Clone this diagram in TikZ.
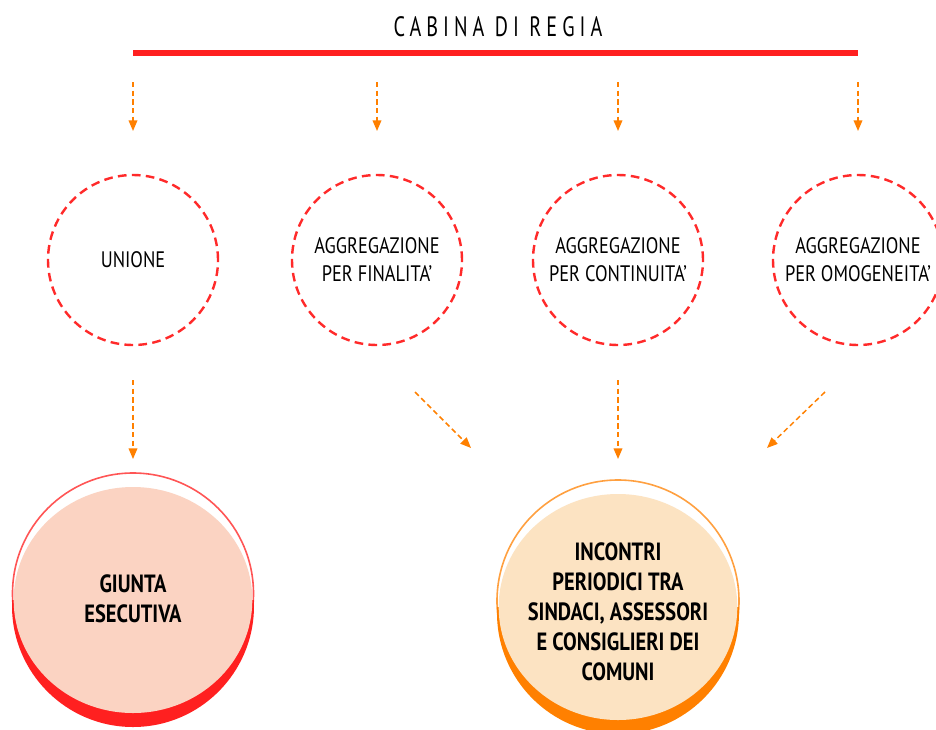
\documentclass[tikz,border=0pt]{standalone}
\usepackage{fontspec}
\setmainfont{PT Sans}[FakeStretch=0.82]
\newfontfamily\titlefont{PT Sans}[FakeStretch=0.72,LetterSpace=18]
\usetikzlibrary{arrows.meta,shapes.geometric}
\definecolor{dred}{HTML}{FF2A2A}
\definecolor{barred}{HTML}{FF2020}
\definecolor{arrorange}{HTML}{FF8000}
\definecolor{ringred}{HTML}{FF5555}
\definecolor{pinkfill}{HTML}{FBD3C2}
\definecolor{ringorange}{HTML}{FFA040}
\definecolor{peachfill}{HTML}{FCE3C2}
\tikzset{
  dcirc/.style={circle, draw=dred, line width=1.8pt, dash pattern=on 6.5pt off 4pt,
    minimum size=127.5pt, inner sep=0pt, align=center, text=black,
    font=\fontsize{16.8}{21}\selectfont},
  darrow/.style={draw=arrorange, line width=1.1pt, dash pattern=on 4pt off 2.5pt,
    -{Triangle[length=8pt,width=6.5pt]}},
  bigtext/.style={align=center, font=\bfseries\fontsize{18.7}{22.5}\selectfont, text=black},
}
\begin{document}
\begin{tikzpicture}[x=0.75pt,y=-0.75pt]
\useasboundingbox (0,0) rectangle (936,729);
\node[font=\titlefont\fontsize{21}{24}\selectfont, text=black] (title) at (498,27) {CABINA DI REGIA};
\coordinate (barL) at (133,53);
\coordinate (barR) at (858,53);
\draw[barred, line width=4.5pt] (barL) -- (barR);

% dashed circles
\node[dcirc] (c1) at (133,260) {UNIONE};
\node[dcirc] (c2) at (377,260) {AGGREGAZIONE\\PER FINALITA'};
\node[dcirc] (c3) at (618,260) {AGGREGAZIONE\\PER CONTINUITA'};
\node[dcirc] (c4) at (858,260) {AGGREGAZIONE\\PER OMOGENEITA'};

% top arrows
\foreach \x/\n in {133/1,377/2,618/3,858/4}{
  \coordinate (ts\n) at (\x,82);
  \coordinate (te\n) at (\x,131);
  \draw[darrow] (ts\n) -- (te\n);
}

% bottom left big circle
\draw[ringred, line width=1.2pt, fill=white] (133,593.5) circle (120.5);
\begin{scope}
  \clip (0,600) rectangle (300,729);
  \fill[barred] (133,606) circle (121);
\end{scope}
\node[ellipse, fill=pinkfill, minimum width=179pt, minimum height=169.5pt, inner sep=0pt] (g) at (133,600) {};
\node[bigtext] (gt) at (133,599) {GIUNTA\\ESECUTIVA};

% bottom right big circle
\draw[ringorange, line width=1.2pt, fill=white] (618,601) circle (121);
\begin{scope}
  \clip (480,607) rectangle (780,729);
  \fill[arrorange] (618,613) circle (121);
\end{scope}
\node[ellipse, fill=peachfill, minimum width=179pt, minimum height=169.5pt, inner sep=0pt] (inc) at (618,607) {};
\node[bigtext] (it) at (618,612) {INCONTRI\\PERIODICI TRA\\SINDACI, ASSESSORI\\E CONSIGLIERI DEI\\COMUNI};

% lower arrows
\coordinate (a1s) at (133,380); \coordinate (a1e) at (133,459);
\coordinate (a2s) at (415,392); \coordinate (a2e) at (471,448);
\coordinate (a3s) at (618,380); \coordinate (a3e) at (618,459);
\coordinate (a4s) at (825,392); \coordinate (a4e) at (767,448);
\draw[darrow] (a1s) -- (a1e);
\draw[darrow] (a2s) -- (a2e);
\draw[darrow] (a3s) -- (a3e);
\draw[darrow] (a4s) -- (a4e);
\end{tikzpicture}
\end{document}
